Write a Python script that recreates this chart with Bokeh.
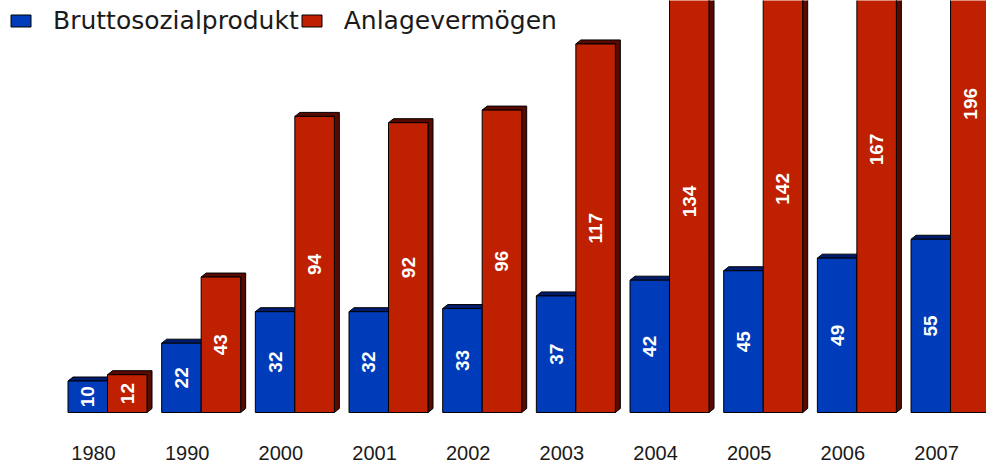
import numpy as np
from bokeh.plotting import figure
from bokeh.models import ColumnDataSource, Legend, LegendItem, Range1d
from bokeh.core.properties import value
from bokeh.embed import file_html
from bokeh.resources import INLINE

# ---- data ----
years = ["1980", "1990", "2000", "2001", "2002", "2003", "2004", "2005", "2006", "2007"]
bruttosozialprodukt = [10, 22, 32, 32, 33, 37, 42, 45, 49, 55]
anlagevermoegen = [12, 43, 94, 92, 96, 117, 134, 142, 167, 196]
series_names = ["Bruttosozialprodukt", "Anlagevermögen"]

# ---- layout / style ----
W, H = 986, 465
PX_X = 93.67      # pixels per category
PX_Y = 3.15       # pixels per unit
X0_PX = 107       # pixel position of first category boundary
BASE_PX = 412     # pixel position of baseline from top

BLUE, BLUE_DARK = "#003CB9", "#001C6E"
RED, RED_DARK = "#BE2000", "#580A00"

bw = 39.5 / PX_X
dx = 5 / PX_X
dy = 4 / PX_Y

p = figure(width=W, height=H,
           x_range=Range1d(-X0_PX / PX_X, (W - X0_PX) / PX_X),
           y_range=Range1d(-(H - BASE_PX) / PX_Y, BASE_PX / PX_Y),
           output_backend="svg", toolbar_location=None,
           x_axis_location=None, y_axis_location=None,
           min_border=0)
p.grid.visible = False
p.outline_line_color = None
p.background_fill_color = "white"

idx = np.arange(len(years))


def extrusions(lefts, vals):
    xs, ys = [], []
    for l, v in zip(lefts, vals):
        r = l + bw
        xs.append([l, l + dx, r + dx, r + dx, r, r])
        ys.append([v, v + dy, v + dy, dy, 0, v])
    return xs, ys


renderers = []
for k, (vals, col, dark) in enumerate([(bruttosozialprodukt, BLUE, BLUE_DARK),
                                       (anlagevermoegen, RED, RED_DARK)]):
    lefts = idx - bw if k == 0 else idx.astype(float)
    xs, ys = extrusions(lefts, vals)
    p.patches(xs, ys, fill_color=dark, line_color="black", line_width=1)
    src = ColumnDataSource(dict(left=lefts, right=lefts + bw,
                                top=vals, bottom=[0] * len(vals)))
    r = p.quad(left="left", right="right", top="top", bottom="bottom", source=src,
               fill_color=col, line_color="black", line_width=1)
    renderers.append(r)

# value labels (rotated, white bold)
for k, vals in enumerate([bruttosozialprodukt, anlagevermoegen]):
    cx = idx - bw / 2 if k == 0 else idx + bw / 2
    p.text(x=cx, y=np.array(vals) / 2, text=[str(v) for v in vals],
           angle=np.pi / 2, text_align="center", text_baseline="middle",
           text_color="white", text_font=value("Liberation Sans"),
           text_font_style="bold", text_font_size="19px")

# category labels
p.text(x=idx, y=[0] * len(idx), text=years, x_offset=-14, y_offset=40.5,
       text_align="center", text_baseline="middle", text_color="#1a1a1a",
       text_font=value("Liberation Sans"), text_font_size="20px")

legend = Legend(items=[LegendItem(label=series_names[0], renderers=[renderers[0]]),
                       LegendItem(label=series_names[1], renderers=[renderers[1]])],
                orientation="horizontal", location=(8, H - 35),
                glyph_width=25, glyph_height=15, label_standoff=20, spacing=0,
                padding=2, margin=0, border_line_color=None,
                background_fill_alpha=0,
                label_text_font="DejaVu Sans", label_text_font_size="25px",
                label_text_color="#1a1a1a")
p.add_layout(legend)

open("out.html", "w").write(file_html(p, INLINE))
